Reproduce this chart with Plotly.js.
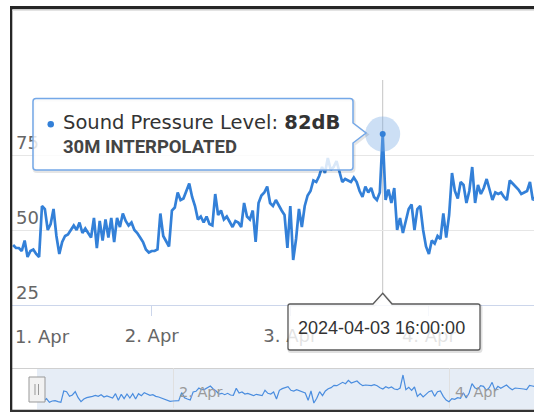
<!DOCTYPE html>
<html>
<head>
<meta charset="utf-8">
<script src="https://cdn.plot.ly/plotly-3.0.1.min.js"></script>
<style>html,body{margin:0;padding:0;background:#fff;}#chart{width:534px;height:412px;}</style>
</head>
<body>
<div id="chart"></div>
<script>
// ---- data ----
const seriesName = 'Sound Pressure Level';
const seriesUnit = 'dB';
const seriesSubtitle = '30M INTERPOLATED';
const startTime = '2024-04-01T00:00:00Z';
const stepMinutes = 30;
const splValues = [
  45, 44, 44, 43, 46.5, 41, 43, 43.5, 42, 41,
  58, 57, 50, 52, 57, 48, 42, 46, 48, 48.5,
  50, 51.5, 50, 52.5, 49, 50.5, 49, 47.5, 54, 44,
  53, 46.5, 53.5, 47.5, 54, 46, 54, 51, 55.5, 53,
  51.5, 52.5, 50, 49, 47.5, 46, 43.5, 42.5,
  43, 43, 43.5, 55.5, 48, 46, 44.5, 56.5, 57.5, 62.5,
  60, 60.5, 63, 65.5, 61, 58, 53.5, 54.5, 52.5, 54.5,
  52, 51.5, 62, 55, 56.5, 53.5, 54.5, 52.5, 51, 53,
  52.5, 51, 59, 54.5, 53.5, 56.5, 46, 59, 61.5, 62.5,
  64.5, 59, 58, 60, 58, 56.5, 55, 44,
  58, 40, 47, 57, 51, 58, 61.5, 63, 66.5, 66,
  68, 71, 69, 74, 70, 71, 73, 69, 66, 67,
  66.5, 66, 67.5, 66, 63, 61, 64.5, 62.5, 64, 61,
  60, 62.5, 82, 60, 63.5, 59, 64, 50, 54, 49,
  53, 57, 58.5, 50, 57, 58, 50, 44.5,
  42, 46.5, 45.5, 48, 47, 55.5, 47.5, 55, 69, 63,
  60.5, 66, 65, 59, 63, 71, 59, 65, 62, 64,
  67, 63, 60, 62.5, 62, 62.5, 61, 60, 66.5, 65.5,
  64.5, 63.5, 62, 62.5, 63, 66, 60, 61
];
const xTickDates = ['2024-04-01', '2024-04-02', '2024-04-03', '2024-04-04'];
const xTickLabels = ['1. Apr', '2. Apr', '3. Apr', '4. Apr'];
const yTickVals = [25, 50, 75, 100];
const yTickLabels = ['25', '50', '75', ''];
const navTickDates = ['2024-04-02', '2024-04-04'];
const navTickLabels = ['2. Apr', '4. Apr'];
const mainRange = ['2024-03-31 23:48:34', '2024-04-04 18:12:00'];
const navRange = ['2024-03-31 20:00:00', '2024-04-04 14:47:00'];

// ---- helpers ----
const W = 534, H = 412;
const fx = x => (x / W).toFixed(5);
const fy = y => (1 - y / H).toFixed(5);
const P = (x, y) => fx(x) + ',' + fy(y);
function fmt(ms) { return new Date(ms).toISOString().slice(0, 19).replace('T', ' '); }
const t0 = Date.parse(startTime);
const times = splValues.map((v, i) => fmt(t0 + i * stepMinutes * 60000));
let peakIdx = 0;
splValues.forEach((v, i) => { if (v > splValues[peakIdx]) peakIdx = i; });
const peakTime = times[peakIdx];
const peakVal = splValues[peakIdx];

const lineColor = '#3380d8';

const traces = [
  { x: times, y: splValues, type: 'scatter', mode: 'lines', xaxis: 'x', yaxis: 'y',
    line: { color: lineColor, width: 2.7 }, hoverinfo: 'skip' },
  { x: [peakTime], y: [peakVal], type: 'scatter', mode: 'markers', xaxis: 'x', yaxis: 'y',
    marker: { size: 35, color: 'rgba(120,170,230,0.38)' }, hoverinfo: 'skip' },
  { x: [peakTime], y: [peakVal], type: 'scatter', mode: 'markers', xaxis: 'x', yaxis: 'y',
    marker: { size: 6, color: lineColor }, hoverinfo: 'skip' },
  { x: times, y: splValues, type: 'scatter', mode: 'lines', xaxis: 'x2', yaxis: 'y2',
    line: { color: '#4a8ddf', width: 1.2 }, hoverinfo: 'skip' }
];

function rectPath(x0, y0, x1, y1) {
  return 'M' + P(x0, y0) + 'L' + P(x1, y0) + 'L' + P(x1, y1) + 'L' + P(x0, y1) + 'Z';
}
function tip1(dx, dy) {
  const l = 33 + dx, r = 353 + dx, t = 98.5 + dy, b = 170 + dy, rr = 3;
  return 'M' + P(l + rr, t) + 'L' + P(r - rr, t) + 'Q' + P(r, t) + ' ' + P(r, t + rr) +
    'L' + P(r, 123 + dy) + 'L' + P(366 + dx, 133 + dy) + 'L' + P(r, 143 + dy) +
    'L' + P(r, b - rr) + 'Q' + P(r, b) + ' ' + P(r - rr, b) + 'L' + P(l + rr, b) +
    'Q' + P(l, b) + ' ' + P(l, b - rr) + 'L' + P(l, t + rr) + 'Q' + P(l, t) + ' ' + P(l + rr, t) + 'Z';
}
function tip2(dx, dy) {
  const l = 288 + dx, r = 480 + dx, t = 304 + dy, b = 350 + dy, rr = 2;
  return 'M' + P(l + rr, t) + 'L' + P(373 + dx, t) + 'L' + P(382.7 + dx, 293.3 + dy) + 'L' + P(392 + dx, t) +
    'L' + P(r - rr, t) + 'Q' + P(r, t) + ' ' + P(r, t + rr) + 'L' + P(r, b - rr) + 'Q' + P(r, b) + ' ' + P(r - rr, b) +
    'L' + P(l + rr, b) + 'Q' + P(l, b) + ' ' + P(l, b - rr) + 'L' + P(l, t + rr) + 'Q' + P(l, t) + ' ' + P(l + rr, t) + 'Z';
}

const shapes = [
  // navigator background + selection
  { type: 'path', xref: 'paper', yref: 'paper', path: rectPath(37, 369, 534, 409.5), fillcolor: 'rgba(102,140,200,0.16)', line: { width: 0 }, layer: 'below' },
  { type: 'line', xref: 'paper', yref: 'paper', x0: fx(12), x1: 1, y0: fy(368.5), y1: fy(368.5), line: { color: '#d0d0d0', width: 1 }, layer: 'below' },
  // crosshair
  { type: 'line', xref: 'x', yref: 'paper', x0: peakTime, x1: peakTime, y0: fy(80), y1: fy(293), line: { color: '#c4c4c4', width: 1 }, layer: 'below' },
  // tooltip 1 shadow & box
  { type: 'path', xref: 'paper', yref: 'paper', path: tip1(1, 1.5), fillcolor: 'rgba(0,0,0,0)', line: { color: 'rgba(0,0,0,0.10)', width: 3 } },
  { type: 'path', xref: 'paper', yref: 'paper', path: tip1(0, 0), fillcolor: 'rgba(255,255,255,0.82)', line: { color: '#74a8e8', width: 1.5 } },
  { type: 'circle', xref: 'paper', yref: 'paper', x0: fx(47.5), x1: fx(54), y0: fy(127.5), y1: fy(121), fillcolor: lineColor, line: { width: 0 } },
  // crosshair label box
  { type: 'path', xref: 'paper', yref: 'paper', path: tip2(1, 1.5), fillcolor: 'rgba(0,0,0,0)', line: { color: 'rgba(0,0,0,0.12)', width: 3 } },
  { type: 'path', xref: 'paper', yref: 'paper', path: tip2(0, 0), fillcolor: 'rgba(255,255,255,0.82)', line: { color: '#5a5a5a', width: 1.3 } },
  // navigator handle
  { type: 'path', xref: 'paper', yref: 'paper', path: rectPath(29, 377, 45, 402), fillcolor: '#f2f2f2', line: { color: '#999', width: 1 } },
  { type: 'line', xref: 'paper', yref: 'paper', x0: fx(35), x1: fx(35), y0: fy(384), y1: fy(395), line: { color: '#999', width: 1 } },
  { type: 'line', xref: 'paper', yref: 'paper', x0: fx(38.5), x1: fx(38.5), y0: fy(384), y1: fy(395), line: { color: '#999', width: 1 } },
  // frame
  { type: 'path', xref: 'paper', yref: 'paper', path: rectPath(10, 6, 534, 9.3), fillcolor: '#262626', line: { width: 0 } },
  { type: 'path', xref: 'paper', yref: 'paper', path: rectPath(10, 6, 12.3, 412), fillcolor: '#262626', line: { width: 0 } },
  { type: 'path', xref: 'paper', yref: 'paper', path: rectPath(10, 409.8, 534, 412), fillcolor: '#333', line: { width: 0 } },
  { type: 'line', xref: 'paper', yref: 'paper', x0: fx(12.3), x1: 1, y0: fy(10.3), y1: fy(10.3), line: { color: '#dddddd', width: 1 } }
];

const annotations = [
  { xref: 'x', yref: 'paper', x: xTickDates[0], y: fy(337), text: xTickLabels[0], xanchor: 'left', yanchor: 'middle', xshift: 0, showarrow: false,
    font: { family: 'DejaVu Sans', size: 18, color: '#666' } },
  { xref: 'paper', yref: 'paper', x: fx(61), y: fy(122), text: seriesName + ': <b>' + peakVal + seriesUnit + '</b>', xanchor: 'left', yanchor: 'middle', showarrow: false,
    font: { family: 'DejaVu Sans', size: 19.5, color: '#333' } },
  { xref: 'paper', yref: 'paper', x: fx(61), y: fy(147), text: '<b>' + seriesSubtitle + '</b>', xanchor: 'left', yanchor: 'middle', showarrow: false,
    font: { family: 'Roboto', size: 18.5, color: '#444' } },
  { xref: 'paper', yref: 'paper', x: fx(381.5), y: fy(328), text: peakTime, xanchor: 'center', yanchor: 'middle', showarrow: false,
    font: { family: 'Liberation Sans', size: 18, color: '#333' } }
];
navTickDates.forEach((d, i) => annotations.push({
  xref: 'x2', yref: 'paper', x: d, y: fy(392), text: navTickLabels[i], xanchor: 'left', yanchor: 'middle', xshift: 4, showarrow: false,
  font: { family: 'DejaVu Sans', size: 14.5, color: '#9a9a9a' }
}));

const layout = {
  width: W, height: H, margin: { l: 0, r: 0, t: 0, b: 0 },
  paper_bgcolor: '#ffffff', plot_bgcolor: 'rgba(0,0,0,0)', showlegend: false,
  font: { family: 'DejaVu Sans', color: '#666' },
  xaxis: {
    type: 'date', domain: [12 / W, 1], anchor: 'y', range: mainRange,
    showgrid: false, zeroline: false, showline: true, linecolor: '#ccd6eb', linewidth: 1,
    ticks: 'outside', ticklen: 10, tickcolor: '#ccd6eb', tickwidth: 1,
    tickvals: xTickDates, ticktext: xTickLabels.map((t, i) => i === 0 ? '' : t),
    tickfont: { family: 'DejaVu Sans', size: 18, color: '#666' }, ticklabelstandoff: 4
  },
  yaxis: {
    domain: [(H - 305) / H, (H - 80) / H], anchor: 'x', range: [25, 100],
    tickvals: yTickVals, ticktext: yTickLabels, showgrid: true, gridcolor: '#e6e6e6', gridwidth: 1,
    zeroline: false, showline: false, ticks: '',
    ticklabelposition: 'inside', ticklabelshift: -12, ticklabelstandoff: 1,
    tickfont: { family: 'DejaVu Sans', size: 18, color: '#666' }
  },
  xaxis2: {
    type: 'date', domain: [12 / W, 1], anchor: 'y2', range: navRange,
    tickvals: navTickDates, showticklabels: false, showgrid: true, gridcolor: '#e0e0e0',
    ticks: '', showline: false, zeroline: false
  },
  yaxis2: {
    domain: [(H - 408) / H, (H - 368) / H], anchor: 'x2', range: [32.5, 92.5],
    showgrid: false, showticklabels: false, zeroline: false, showline: false, ticks: ''
  },
  shapes: shapes,
  annotations: annotations
};

Plotly.newPlot('chart', traces, layout, { staticPlot: true, displayModeBar: false });
</script>
</body>
</html>
